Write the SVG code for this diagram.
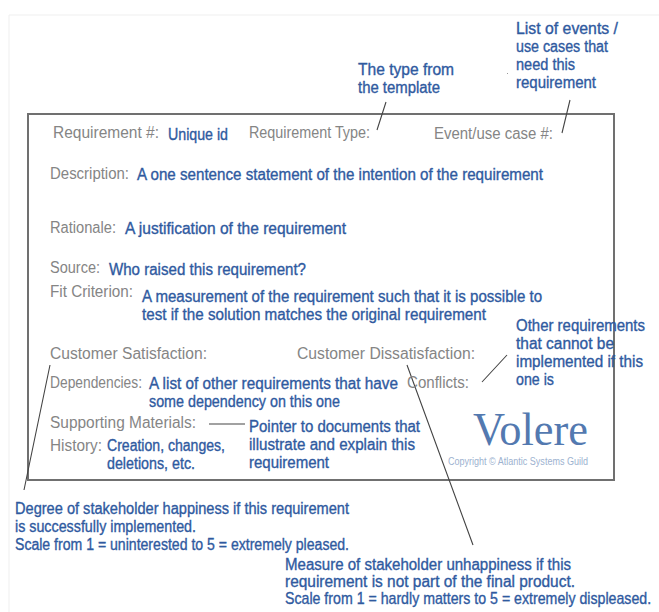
<svg xmlns="http://www.w3.org/2000/svg" width="659" height="612" viewBox="0 0 659 612">
<style>
text{font-family:"Liberation Sans",Arial,sans-serif}
.b{fill:#2f5a9f;font-size:16px;font-weight:400;stroke:#2f5a9f;stroke-width:.35px}
.g{fill:#858585;font-size:16px}
.l{stroke:#444;stroke-width:1.1;fill:none}
</style>
<rect width="659" height="612" fill="#fff"/>
<path d="M659 15H9V612" fill="none" stroke="#efefef"/>
<rect id="card" x="28" y="114" width="586" height="366" fill="none" stroke="#707070" stroke-width="2"/>
<g id="connectors">
<path class="l" d="M386 102L377 130M570 100L562 133M507 355L482 382M209 424H245M50 365L24 490M407 365L473 545"/>
<path d="M507 73h1v1h-1z" fill="#999"/>
</g>
<g id="header">
<text class="g" x="53" y="138" textLength="106" lengthAdjust="spacingAndGlyphs">Requirement  #:</text>
<text class="b" x="168" y="140" textLength="60" lengthAdjust="spacingAndGlyphs">Unique id</text>
<text class="g" x="249" y="138" textLength="121" lengthAdjust="spacingAndGlyphs">Requirement Type:</text>
<text class="g" x="434" y="139" textLength="119" lengthAdjust="spacingAndGlyphs">Event/use case #:</text>
</g>
<g id="note-type">
<text class="b" x="358" y="75" textLength="96" lengthAdjust="spacingAndGlyphs">The type from</text>
<text class="b" x="358" y="93" textLength="82" lengthAdjust="spacingAndGlyphs">the template</text>
</g>
<g id="note-events">
<text class="b" x="516" y="34" textLength="102" lengthAdjust="spacingAndGlyphs">List of events /</text>
<text class="b" x="516" y="52" textLength="92" lengthAdjust="spacingAndGlyphs">use cases that</text>
<text class="b" x="516" y="70" textLength="59" lengthAdjust="spacingAndGlyphs">need this</text>
<text class="b" x="516" y="88" textLength="80" lengthAdjust="spacingAndGlyphs">requirement</text>
</g>
<g id="description">
<text class="g" x="50" y="179" textLength="79" lengthAdjust="spacingAndGlyphs">Description:</text>
<text class="b" x="137" y="180" textLength="406" lengthAdjust="spacingAndGlyphs">A one sentence statement of the intention of the requirement</text>
</g>
<g id="rationale">
<text class="g" x="50" y="233" textLength="66" lengthAdjust="spacingAndGlyphs">Rationale:</text>
<text class="b" x="125" y="234" textLength="221" lengthAdjust="spacingAndGlyphs">A justification of the requirement</text>
</g>
<g id="source">
<text class="g" x="50" y="273" textLength="50" lengthAdjust="spacingAndGlyphs">Source:</text>
<text class="b" x="109" y="275" textLength="197" lengthAdjust="spacingAndGlyphs">Who raised this requirement?</text>
</g>
<g id="fit-criterion">
<text class="g" x="50" y="297" textLength="83" lengthAdjust="spacingAndGlyphs">Fit Criterion:</text>
<text class="b" x="142" y="302" textLength="400" lengthAdjust="spacingAndGlyphs">A measurement of the requirement such that it is possible to</text>
<text class="b" x="142" y="320" textLength="344" lengthAdjust="spacingAndGlyphs">test if the solution matches the original requirement</text>
</g>
<g id="customer-satisfaction">
<text class="g" x="50" y="359" textLength="157" lengthAdjust="spacingAndGlyphs">Customer Satisfaction:</text>
</g>
<g id="customer-dissatisfaction">
<text class="g" x="297" y="359" textLength="178" lengthAdjust="spacingAndGlyphs">Customer Dissatisfaction:</text>
</g>
<g id="note-conflicts">
<text class="b" x="516" y="331" textLength="129" lengthAdjust="spacingAndGlyphs">Other requirements</text>
<text class="b" x="516" y="349" textLength="98" lengthAdjust="spacingAndGlyphs">that cannot be</text>
<text class="b" x="516" y="367" textLength="127" lengthAdjust="spacingAndGlyphs">implemented if this</text>
<text class="b" x="516" y="385" textLength="38" lengthAdjust="spacingAndGlyphs">one is</text>
</g>
<g id="dependencies">
<text class="g" x="50" y="388" textLength="92" lengthAdjust="spacingAndGlyphs">Dependencies:</text>
<text class="b" x="149" y="389" textLength="249" lengthAdjust="spacingAndGlyphs">A list of other requirements that have</text>
<text class="b" x="149" y="407" textLength="191" lengthAdjust="spacingAndGlyphs">some dependency on this one</text>
</g>
<g id="conflicts">
<text class="g" x="407" y="388" textLength="62" lengthAdjust="spacingAndGlyphs">Conflicts:</text>
</g>
<g id="supporting-materials">
<text class="g" x="50" y="428" textLength="146" lengthAdjust="spacingAndGlyphs">Supporting Materials:</text>
<text class="b" x="249" y="432" textLength="171" lengthAdjust="spacingAndGlyphs">Pointer to documents that</text>
<text class="b" x="249" y="450" textLength="166" lengthAdjust="spacingAndGlyphs">illustrate and explain this</text>
<text class="b" x="249" y="468" textLength="80" lengthAdjust="spacingAndGlyphs">requirement</text>
</g>
<g id="history">
<text class="g" x="50" y="451" textLength="52" lengthAdjust="spacingAndGlyphs">History:</text>
<text class="b" x="107" y="451" textLength="118" lengthAdjust="spacingAndGlyphs">Creation, changes,</text>
<text class="b" x="107" y="469" textLength="88" lengthAdjust="spacingAndGlyphs">deletions, etc.</text>
</g>
<g id="logo">
<text x="473" y="445" style="font-family:'Liberation Serif',serif" font-size="46" fill="#5379b0" textLength="115" lengthAdjust="spacingAndGlyphs">Volere</text>
<text x="448" y="465" font-size="10" fill="#9db2d0" textLength="140" lengthAdjust="spacingAndGlyphs">Copyright © Atlantic Systems Guild</text>
</g>
<g id="note-satisfaction">
<text class="b" x="15" y="514" textLength="334" lengthAdjust="spacingAndGlyphs">Degree of stakeholder happiness if this requirement</text>
<text class="b" x="15" y="532" textLength="181" lengthAdjust="spacingAndGlyphs">is successfully implemented.</text>
<text class="b" x="15" y="550" textLength="334" lengthAdjust="spacingAndGlyphs">Scale from 1 = uninterested to 5 = extremely pleased.</text>
</g>
<g id="note-dissatisfaction">
<text class="b" x="285" y="570" textLength="286" lengthAdjust="spacingAndGlyphs">Measure of stakeholder unhappiness if this</text>
<text class="b" x="285" y="587" textLength="290" lengthAdjust="spacingAndGlyphs">requirement is not part of the final product.</text>
<text class="b" transform="translate(285 604) scale(.88 1)" x="0" y="0" textLength="416" lengthAdjust="spacingAndGlyphs">Scale from 1 = hardly matters to 5 = extremely displeased.</text>
</g>
</svg>
